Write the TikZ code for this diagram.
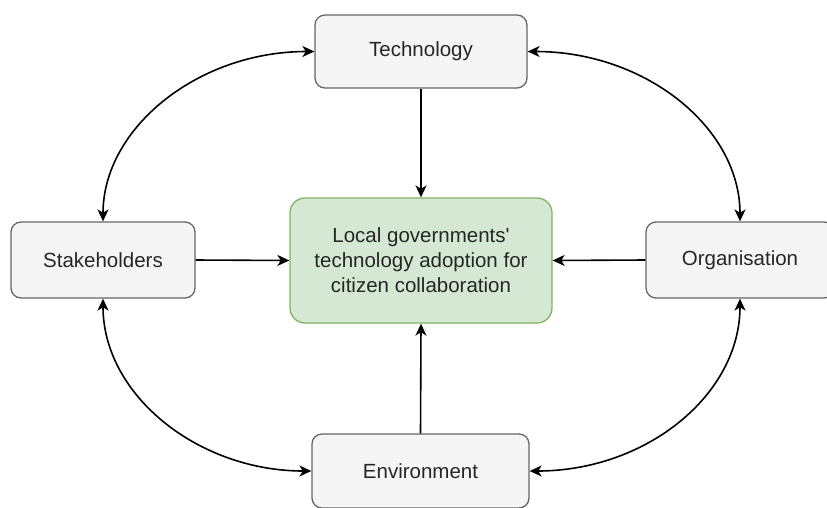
\documentclass[tikz,border=0pt]{standalone}
\usepackage{fontspec}
\setmainfont{Liberation Sans}[Ligatures=TeXOff]
\usetikzlibrary{arrows.meta}
\definecolor{boxfill}{HTML}{F5F5F5}
\definecolor{boxline}{HTML}{666666}
\definecolor{corefill}{HTML}{D5E8D4}
\definecolor{coreline}{HTML}{82B366}
\definecolor{txt}{HTML}{262626}
\tikzset{
  factor/.style={draw=boxline, fill=boxfill, line width=1.3pt, rounded corners=10pt,
    text=txt, font=\fontsize{20.5}{25}\selectfont, align=center, inner sep=0pt},
  core/.style={draw=coreline, fill=corefill, line width=1.3pt, rounded corners=15pt,
    text=txt, font=\fontsize{20.5}{25}\selectfont, align=center, inner sep=0pt},
  tip/.tip={Stealth[length=12pt, width=11pt, inset=3.5pt]},
  link/.style={line width=1.6pt, -tip},
  duallink/.style={line width=1.6pt, tip-tip}
}
\begin{document}
\begin{tikzpicture}[x=1pt, y=-1pt]
\useasboundingbox (0,0) rectangle (827,507);

% factor boxes
\node[factor, minimum width=212pt, minimum height=73pt] (tech) at (421,51.5) {Technology};
\node[factor, minimum width=184pt, minimum height=76pt] (stak) at (103,260) {Stakeholders};
\node[factor, minimum width=188pt, minimum height=76pt] (org) at (740,260) {Organisation};
\node[factor, minimum width=217pt, minimum height=74pt] (env) at (420.5,471) {Environment};

% central concept
\node[core, minimum width=262pt, minimum height=125pt] (adopt) at (421,260.5)
  {Local governments'\\technology adoption for\\citizen collaboration};

% influences on the central concept
\draw[link] (tech.south) -- (adopt.north);
\draw[link] (stak.east) -- (adopt.west);
\draw[link] (org.west) -- (adopt.east);
\draw[link] (env.north) -- (adopt.south);

% mutual relations between neighbouring factors
\draw[duallink] (stak.north) .. controls (103,128) and (198,51.5) .. (tech.west);
\draw[duallink] (tech.east) .. controls (646,51.5) and (740,128) .. (org.north);
\draw[duallink] (stak.south) .. controls (103,395) and (198,471) .. (env.west);
\draw[duallink] (env.east) .. controls (646,471) and (740,395) .. (org.south);
\end{tikzpicture}
\end{document}
